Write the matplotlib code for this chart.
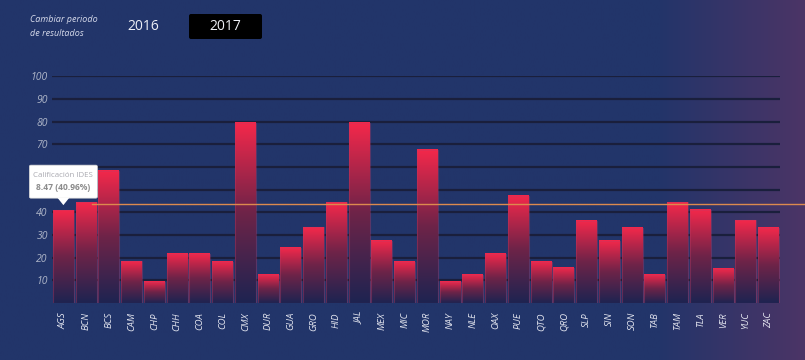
import numpy as np
import matplotlib.pyplot as plt
import matplotlib.transforms as mtransforms
from matplotlib.colors import LinearSegmentedColormap
from matplotlib.patches import Rectangle, Polygon, FancyBboxPatch

# datos
estados = ["AGS", "BCN", "BCS", "CAM", "CHP", "CHH", "COA", "COL", "CMX", "DUR",
           "GUA", "GRO", "HID", "JAL", "MEX", "MIC", "MOR", "NAY", "NLE", "OAX",
           "PUE", "QTO", "QRO", "SLP", "SIN", "SON", "TAB", "TAM", "TLA", "VER",
           "YUC", "ZAC"]
porcentaje = [40.96, 44.4, 58.4, 18.4, 9.4, 21.7, 21.7, 18.3, 79.5, 12.4,
              24.3, 33.5, 44.4, 79.5, 27.4, 18.3, 67.6, 9.3, 12.4, 21.7,
              47.3, 18.1, 15.5, 36.3, 27.4, 33.3, 12.4, 44.4, 41.2, 15.2,
              36.6, 33.3]
referencia = 43.7
yticks = [10, 20, 30, 40, 50, 60, 70, 80, 90, 100]
anios = ["2016", "2017"]
tooltip_titulo = "Calificación IDES"
tooltip_valor = "8.47 (40.96%)"

plt.rcParams['font.family'] = ['Open Sans', 'DejaVu Sans']

fig = plt.figure(figsize=(8.05, 3.6), dpi=100)

# fondo con degradado horizontal
bg = fig.add_axes([0, 0, 1, 1], zorder=0)
fondo_cmap = LinearSegmentedColormap.from_list(
    "fondo", [(0, "#22356a"), (0.82, "#23356a"), (1, "#4b3466")])
bg.imshow(np.linspace(0, 1, 400).reshape(1, -1), cmap=fondo_cmap, aspect="auto",
          extent=[0, 1, 0, 1])
bg.axis("off")

# grafica principal
ax = fig.add_axes([52 / 805, 1 - 303 / 360, 728 / 805, (303 - 76.3) / 360], zorder=1)
ax.patch.set_alpha(0)

barra_cmap = LinearSegmentedColormap.from_list("barra", ["#1e2451", "#6e2348", "#f4284b"])
grad = np.linspace(0, 1, 200).reshape(-1, 1)
ancho = 0.92
for i, v in enumerate(porcentaje):
    ax.imshow(grad, cmap=barra_cmap, origin="lower", aspect="auto",
              extent=[i - ancho / 2, i + ancho / 2, 0, v], zorder=2)
    ax.add_patch(Rectangle((i - ancho / 2, 0), ancho, v, fill=False,
                           edgecolor="#c23a66", alpha=0.35, lw=0.8, zorder=3))

ax.set_xlim(-0.5, len(estados) - 0.5)
ax.set_ylim(0, 100)

ax.set_yticks(yticks)
ax.set_yticklabels([str(t) for t in yticks], fontstyle="italic", fontsize=7.5,
                   color="#aeb5c8")
ax.set_xticks(range(len(estados)))
ax.set_xticklabels(estados, rotation=90, fontstyle="italic", fontsize=6.8,
                   color="#e4e6f0", va="top")
ax.tick_params(axis="both", length=0)
ax.tick_params(axis="y", pad=3)
ax.tick_params(axis="x", pad=6.5)
ax.yaxis.grid(True, color="#1a1f3c", lw=1.6)
ax.set_axisbelow(True)
for s in ax.spines.values():
    s.set_visible(False)

# linea de referencia
trans = mtransforms.blended_transform_factory(fig.transFigure, ax.transData)
ax.plot([91.7 / 805, 1.0], [referencia, referencia], transform=trans,
        color="#dc8a4e", lw=1, clip_on=False, zorder=4)

# capa superior: encabezado y tooltip
ov = fig.add_axes([0, 0, 1, 1], zorder=3)
ov.set_xlim(0, 805)
ov.set_ylim(360, 0)
ov.axis("off")
ov.patch.set_alpha(0)

ov.text(30, 20, "Cambiar periodo", fontstyle="italic", fontsize=6.5,
        color="#d6daea", va="center", ha="left")
ov.text(30, 34, "de resultados", fontstyle="italic", fontsize=6.5,
        color="#d6daea", va="center", ha="left")
ov.text(143, 27, anios[0], fontsize=10, color="#eef0f6", va="center", ha="center")
ov.add_patch(FancyBboxPatch((189, 14), 73, 25, boxstyle="round,pad=0,rounding_size=2",
                            facecolor="#000000", edgecolor="none"))
ov.text(225.5, 27, anios[1], fontsize=10, color="#eef0f6", va="center", ha="center")

# tooltip anclado a la primera barra
punta = ax.transData.transform((0, porcentaje[0]))
px, py = ov.transData.inverted().transform(punta)
py = py - 5
caja_y0, caja_y1 = py - 40, py - 7.5

# las etiquetas del eje que quedan tapadas por el tooltip no se ven
for lbl, t in zip(ax.get_yticklabels(), yticks):
    ty = ov.transData.inverted().transform(ax.transData.transform((0, t)))[1]
    if caja_y0 - 4 < ty < caja_y1 + 4:
        lbl.set_visible(False)

ov.add_patch(FancyBboxPatch((px - 34, caja_y0), 68, 33,
                            boxstyle="round,pad=0,rounding_size=1.5",
                            facecolor="white", edgecolor="#d8d8d8", lw=0.5))
ov.add_patch(Polygon([[px - 6, caja_y1], [px + 6, caja_y1], [px, py]],
                     closed=True, facecolor="white", edgecolor="none"))
ov.text(px, py - 30, tooltip_titulo, fontsize=5.7, color="#a9a9b0",
        ha="center", va="center")
ov.text(px, py - 17.5, tooltip_valor, fontsize=6.1, color="#8c8c8c",
        ha="center", va="center", fontweight="bold")

fig.savefig("out.png", dpi=100)
